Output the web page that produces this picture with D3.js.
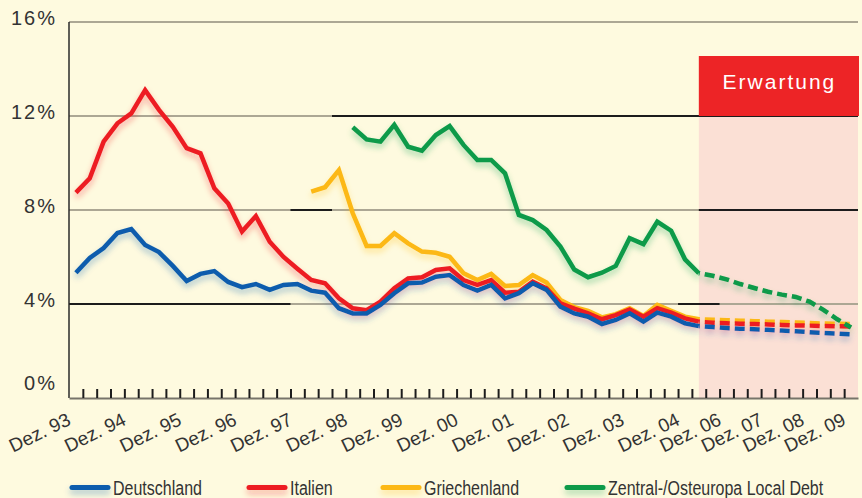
<!DOCTYPE html>
<html>
<head>
<meta charset="utf-8">
<script src="https://cdn.jsdelivr.net/npm/d3@7"></script>
<style>
  html, body { margin: 0; padding: 0; background: #fefadf; }
  svg { display: block; }
  text { font-family: "Liberation Sans", Arial, sans-serif; }
</style>
</head>
<body>
<div id="chart"></div>
<script>
// quarterly slots, Dez. 93 ... forecast to Dez. 09
const slotCount = 57;
const labelSlots = [0, 4, 8, 12, 16, 20, 24, 28, 32, 36, 40, 44, 47, 50, 53, 56];
const labels = ['Dez. 93', 'Dez. 94', 'Dez. 95', 'Dez. 96', 'Dez. 97', 'Dez. 98', 'Dez. 99', 'Dez. 00',
  'Dez. 01', 'Dez. 02', 'Dez. 03', 'Dez. 04', 'Dez. 06', 'Dez. 07', 'Dez. 08', 'Dez. 09'];
const yTicks = [0, 4, 8, 12, 16];
const forecastStart = 45;

const deutschland = [5.33, 5.96, 6.38, 7.02, 7.19, 6.51, 6.21, 5.62, 4.98, 5.28, 5.40, 4.94, 4.72, 4.85,
  4.60, 4.81, 4.85, 4.57, 4.48, 3.82, 3.60, 3.60, 3.96, 4.46, 4.88, 4.91, 5.16, 5.23, 4.81, 4.57, 4.81,
  4.24, 4.46, 4.88, 4.60, 3.89, 3.60, 3.46, 3.15, 3.32, 3.60, 3.25, 3.63, 3.46, 3.18, 3.06];
const italien = [8.74, 9.35, 10.91, 11.69, 12.11, 13.1, 12.26, 11.54, 10.63, 10.41, 8.92, 8.28, 7.08,
  7.74, 6.65, 6.0, 5.5, 5.02, 4.88, 4.24, 3.82, 3.74, 4.10, 4.67, 5.09, 5.14, 5.45, 5.52, 5.02, 4.81,
  5.02, 4.48, 4.52, 4.95, 4.67, 4.03, 3.80, 3.60, 3.35, 3.53, 3.77, 3.46, 3.82, 3.63, 3.39, 3.25];
const griechenland = [null, null, null, null, null, null, null, null, null, null, null, null, null, null,
  null, null, null, 8.78, 8.97, 9.70, 7.86, 6.47, 6.47, 7.01, 6.58, 6.23, 6.18, 6.01, 5.31, 5.02, 5.28,
  4.77, 4.81, 5.23, 4.91, 4.17, 3.87, 3.71, 3.43, 3.57, 3.82, 3.49, 3.96, 3.71, 3.46, 3.35];
const zentralOst = [null, null, null, null, null, null, null, null, null, null, null, null, null, null,
  null, null, null, null, null, null, 11.52, 11.0, 10.91, 11.62, 10.69, 10.52, 11.19, 11.57, 10.77,
  10.13, 10.13, 9.56, 7.79, 7.57, 7.15, 6.44, 5.47, 5.14, 5.33, 5.62, 6.80, 6.55, 7.50, 7.12, 5.90, 5.31];

// Erwartung (slots 45..56)
const deutschlandFc = [3.06, 3.02, 2.98, 2.95, 2.93, 2.90, 2.87, 2.84, 2.80, 2.77, 2.74, 2.71];
const italienFc = [3.25, 3.20, 3.18, 3.16, 3.15, 3.13, 3.11, 3.09, 3.08, 3.06, 3.05, 3.04];
const griechenlandFc = [3.35, 3.33, 3.31, 3.29, 3.27, 3.25, 3.23, 3.21, 3.19, 3.17, 3.16, 3.15];
const zentralOstFc = [5.31, 5.20, 5.05, 4.85, 4.68, 4.52, 4.40, 4.30, 4.10, 3.75, 3.35, 3.00];

const series = [
  { name: 'Griechenland', color: '#fcb813', values: griechenland, fc: griechenlandFc },
  { name: 'Italien', color: '#ed1c24', values: italien, fc: italienFc },
  { name: 'Deutschland', color: '#0b5cad', values: deutschland, fc: deutschlandFc },
  { name: 'Zentral-/Osteuropa Local Debt', color: '#0a9a48', values: zentralOst, fc: zentralOstFc }
];
const legendOrder = ['Deutschland', 'Italien', 'Griechenland', 'Zentral-/Osteuropa Local Debt'];

const width = 862;
const height = 498;
const GRAY = '#aca794';
const DARK = '#1c1c1c';

const svg = d3.select('#chart').append('svg')
  .attr('width', width)
  .attr('height', height);

svg.append('rect').attr('width', width).attr('height', height).attr('fill', '#fefadf');

const defs = svg.append('defs');
const filter = defs.append('filter')
  .attr('id', 'glow')
  .attr('filterUnits', 'userSpaceOnUse')
  .attr('x', 0).attr('y', 0).attr('width', width).attr('height', height);
filter.append('feGaussianBlur').attr('in', 'SourceGraphic').attr('stdDeviation', 3).attr('result', 'b');
filter.append('feOffset').attr('in', 'b').attr('dy', 4).attr('result', 'o');
filter.append('feComponentTransfer').attr('in', 'o').attr('result', 'f')
  .append('feFuncA').attr('type', 'linear').attr('slope', 0.35);
const merge = filter.append('feMerge');
merge.append('feMergeNode').attr('in', 'f');
merge.append('feMergeNode').attr('in', 'SourceGraphic');

// slot units -> pixels
const x = d3.scaleLinear().domain([0, slotCount]).range([69, 858]);
const y = d3.scaleLinear().domain([0, 16]).range([398, 22]);
const xc = i => x(i + 0.5);

// Erwartung region
const fx = xc(forecastStart);
svg.append('rect')
  .attr('x', fx).attr('y', y(12))
  .attr('width', x(slotCount) - fx).attr('height', y(0) - y(12))
  .attr('fill', '#fbe0d5');

// grid lines
svg.append('g')
  .selectAll('line')
  .data(yTicks.filter(d => d > 0))
  .enter()
  .append('line')
  .attr('x1', x(0)).attr('x2', x(slotCount))
  .attr('y1', d => y(d)).attr('y2', d => y(d))
  .attr('stroke', GRAY).attr('stroke-width', 2);

const darkSegments = [[12, 19, 57], [8, 16, 19], [8, 45.5, 57], [4, 0, 16], [4, 44, 47]];
svg.append('g')
  .selectAll('line')
  .data(darkSegments)
  .enter()
  .append('line')
  .attr('x1', d => x(d[1])).attr('x2', d => x(d[2]))
  .attr('y1', d => y(d[0])).attr('y2', d => y(d[0]))
  .attr('stroke', DARK).attr('stroke-width', 2);

// Erwartung box
svg.append('rect')
  .attr('x', fx).attr('y', 56)
  .attr('width', x(slotCount) + 1 - fx).attr('height', y(12) - 56)
  .attr('fill', '#ed2426');
svg.append('text')
  .attr('x', (fx + x(slotCount)) / 2 + 1).attr('y', 89)
  .attr('text-anchor', 'middle')
  .attr('fill', '#ffffff')
  .attr('font-size', 21)
  .attr('letter-spacing', 2)
  .text('Erwartung');

// lines
const line = d3.line()
  .defined(d => d.v != null)
  .x(d => xc(d.i))
  .y(d => y(d.v));

const lineGroup = svg.append('g').attr('filter', 'url(#glow)');
series.forEach(s => {
  lineGroup.append('path')
    .attr('d', line(s.values.map((v, i) => ({ i, v }))))
    .attr('fill', 'none')
    .attr('stroke', s.color)
    .attr('stroke-width', 4.5)
    .attr('stroke-linejoin', 'miter');
  lineGroup.append('path')
    .attr('d', line(s.fc.map((v, i) => ({ i: i + forecastStart, v }))))
    .attr('fill', 'none')
    .attr('stroke', s.color)
    .attr('stroke-width', 4.5)
    .attr('stroke-dasharray', '10 5')
    .attr('stroke-dashoffset', -6);
});

// y axis
svg.append('line')
  .attr('x1', x(0)).attr('x2', x(0))
  .attr('y1', y(16)).attr('y2', y(0))
  .attr('stroke', '#2a2a2a').attr('stroke-width', 1.5);

svg.append('g')
  .selectAll('text')
  .data(yTicks)
  .enter()
  .append('text')
  .attr('x', 57)
  .attr('y', d => (d === 0 ? y(d) - 8 : y(d) + 2.5))
  .attr('text-anchor', 'end')
  .attr('font-size', 20)
  .attr('letter-spacing', 2)
  .attr('fill', '#333')
  .text(d => d + '%');

// x axis with inward ticks on the slot boundaries
const xAxis = d3.axisBottom(x)
  .tickValues(d3.range(1, slotCount))
  .tickSize(-9)
  .tickSizeOuter(0)
  .tickFormat('');
const gx = svg.append('g')
  .attr('transform', `translate(0, ${y(0)})`)
  .call(xAxis);
gx.select('.domain').attr('stroke', '#77746a').attr('stroke-width', 2);
gx.selectAll('.tick line').attr('stroke', DARK).attr('stroke-width', 2);

svg.append('g')
  .selectAll('text')
  .data(labelSlots)
  .enter()
  .append('text')
  .attr('transform', d => `translate(${xc(d) - 4}, 424) rotate(-26)`)
  .attr('text-anchor', 'end')
  .attr('font-size', 19)
  .attr('fill', '#333')
  .text((d, i) => labels[i]);

// legend (condensed type)
const legendX = [72, 249, 383, 567];
const legend = svg.append('g');
legendOrder.forEach((name, k) => {
  const s = series.find(d => d.name === name);
  legend.append('line')
    .attr('x1', legendX[k]).attr('x2', legendX[k] + 36)
    .attr('y1', 487.5).attr('y2', 487.5)
    .attr('stroke', s.color)
    .attr('stroke-width', 5)
    .attr('stroke-linecap', 'round')
    .attr('filter', 'url(#glow)');
  legend.append('text')
    .attr('transform', `translate(${legendX[k] + 41}, 495) scale(0.8, 1)`)
    .attr('font-size', 20)
    .attr('fill', '#333')
    .text(name);
});
</script>
</body>
</html>
